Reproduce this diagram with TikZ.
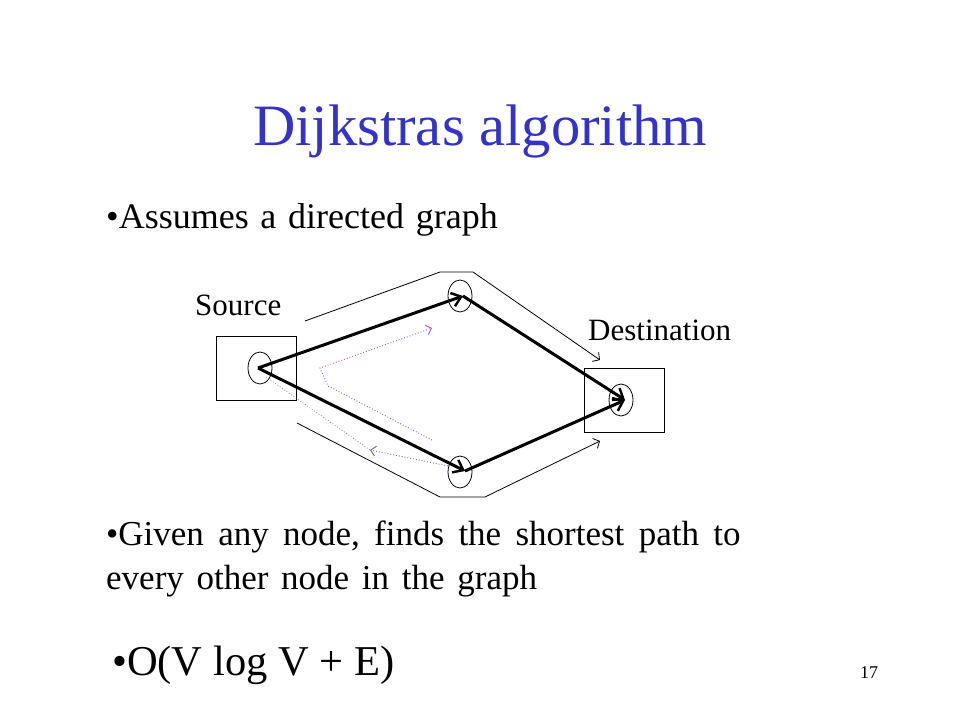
\documentclass[tikz,border=0pt]{standalone}
\usepackage{fontspec}
\setmainfont{Liberation Serif}
\usetikzlibrary{arrows.meta,shapes.geometric}
\definecolor{titleblue}{HTML}{3333CC}
\definecolor{pathviolet}{HTML}{9B55F0}
\definecolor{pathblue}{HTML}{6666CC}
\definecolor{pathgray}{HTML}{8080A8}
\tikzset{
  vtx/.style={draw, ellipse, line width=0.8pt, minimum width=24pt, minimum height=32pt, inner sep=0pt},
  endbox/.style={draw, line width=0.8pt, minimum width=80pt, minimum height=64pt, inner sep=0pt},
  heavy/.style={line width=3pt, -{Straight Barb[length=9pt,width=14pt,line width=2.4pt]}},
  light/.style={line width=0.8pt, -{Straight Barb[length=5pt,width=11pt,line width=0.8pt]}},
  searchtip/.style={-{Straight Barb[length=5pt,width=10pt,line width=0.9pt]}},
  txt/.style={anchor=base west, inner sep=0pt},
}
\begin{document}
\begin{tikzpicture}[x=1pt,y=-1pt]
\useasboundingbox (0,0) rectangle (960,720);
% texts
\node[txt, text=titleblue, font=\fontsize{58.6}{60}\selectfont] (title) at (253,145) {Dijkstras algorithm};
\node[txt, font=\fontsize{36}{38}\selectfont] (b1) at (106,228) {\spaceskip=11.7pt •Assumes a directed graph};
\node[txt, font=\fontsize{31}{32}\selectfont] (srclbl) at (195,315) {Source};
\node[txt, font=\fontsize{31}{32}\selectfont] (dstlbl) at (588,340) {Destination};
\node[txt, font=\fontsize{35}{38}\selectfont] (b2a) at (106,545) {\spaceskip=14.3pt •Given any node, finds the shortest path to};
\node[txt, font=\fontsize{35}{38}\selectfont] (b2b) at (106,589) {\spaceskip=12.7pt every other node in the graph};
\node[txt, font=\fontsize{42.5}{44}\selectfont] (b3) at (112,675) {•O(V log V + E)};
\node[txt, font=\fontsize{18}{20}\selectfont] (pg) at (860,678) {17};
% boxes
\node[endbox] (sbox) at (256,368) {};
\node[endbox] (dbox) at (624,400) {};
% vertices
\node[vtx] (s) at (260,368) {};
\node[vtx] (a) at (460,296) {};
\node[vtx] (b) at (460,472) {};
\node[vtx] (d) at (621,400) {};
% thick edges
\coordinate (s0) at (258,368);
\coordinate (a0) at (463,296);
\coordinate (b0) at (465,471);
\coordinate (d0) at (625,400);
\draw[heavy] (s0) -- (a0);
\draw[heavy] (s0) -- (b0);
\draw[heavy] (a0) -- (d0);
\draw[heavy] (b0) -- (d0);
% thin outer paths
\coordinate (u1) at (305,321);
\coordinate (u2) at (440,272);
\coordinate (u3) at (473,272);
\coordinate (u4) at (600,360);
\draw[light] (u1) -- (u2) -- (u3) -- (u4);
\coordinate (l1) at (297,423);
\coordinate (l2) at (440,497);
\coordinate (l3) at (485,497);
\coordinate (l4) at (600,441);
\draw[light] (l1) -- (l2) -- (l3) -- (l4);
% dotted search paths
\coordinate (p1) at (432,440);
\coordinate (p2) at (328,386);
\coordinate (p3) at (320,368);
\coordinate (p4) at (432,328);
\draw[pathviolet, line width=0.9pt, dotted, searchtip] (p1) -- (p2) -- (p3) -- (p4);
\coordinate (q1) at (448,466);
\coordinate (q2) at (370,450);
\draw[pathblue, line width=0.9pt, dotted, searchtip] (q1) -- (q2);
\coordinate (g1) at (266,377);
\draw[pathgray, line width=0.8pt, dotted] (g1) -- (q2);
\end{tikzpicture}
\end{document}
